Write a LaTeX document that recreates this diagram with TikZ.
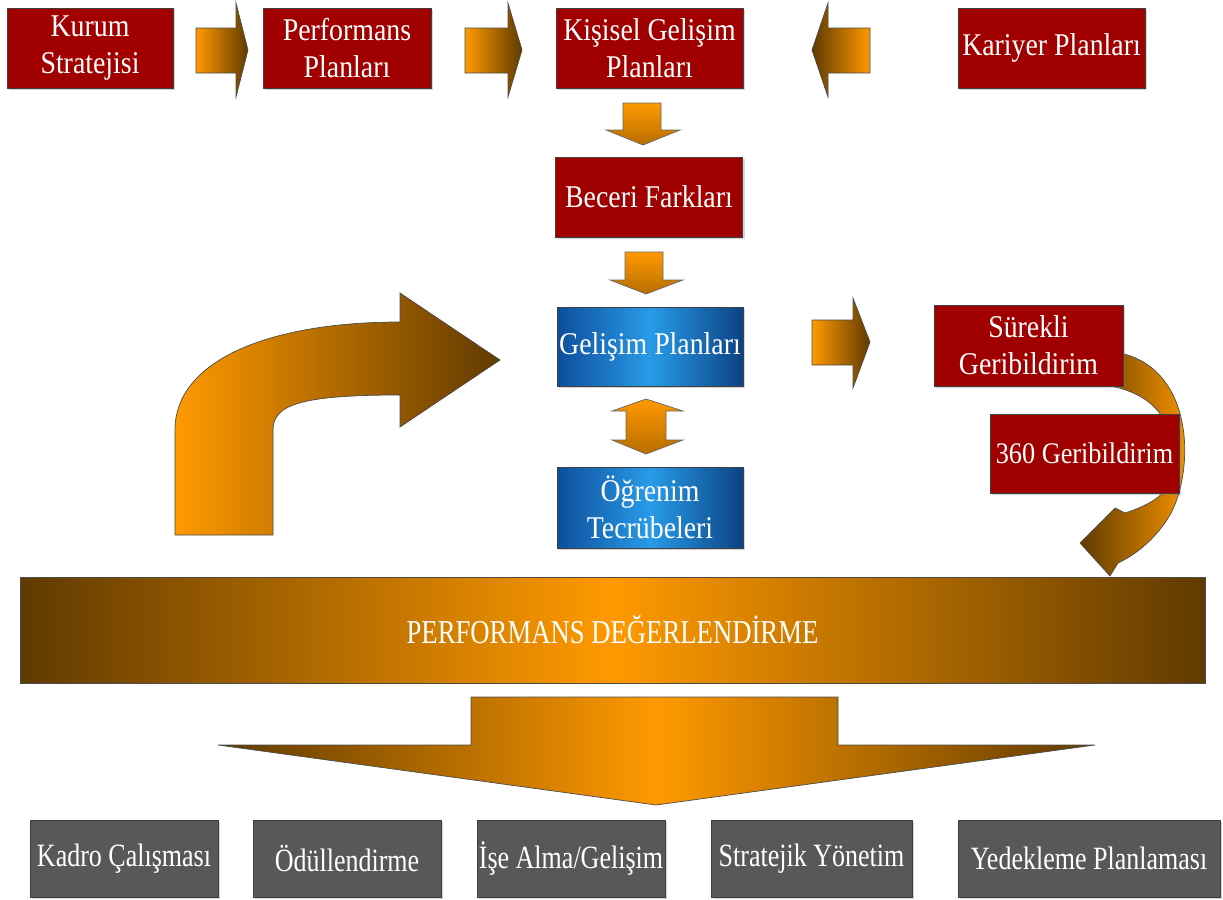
\documentclass[tikz,border=0pt]{standalone}
\usepackage{fontspec}
\setmainfont{Liberation Serif}
\newfontfamily\kutufont{Liberation Serif}[FakeStretch=0.88]
\newfontfamily\darfont{Liberation Serif}[FakeStretch=0.8]
\usetikzlibrary{shadows}

\definecolor{koyukirmizi}{RGB}{160,0,0}
\definecolor{turuncu}{RGB}{255,153,0}
\definecolor{kahve}{RGB}{96,58,0}
\definecolor{koyumavi}{RGB}{14,78,155}
\definecolor{acikmavi}{RGB}{40,155,232}
\definecolor{gri}{RGB}{88,88,88}

\tikzset{
  kutu/.style={draw=black!75, thin, text=white, align=center, inner sep=0pt,
    font=\kutufont\fontsize{18}{21}\selectfont,
    drop shadow={shadow xshift=1.2pt, shadow yshift=-1.2pt, opacity=0.35}},
  kirmizi/.style={kutu, fill=koyukirmizi, minimum width=3.74cm, minimum height=1.6cm},
  mavi/.style={kutu, left color=koyumavi, right color=koyumavi!85!black, middle color=acikmavi,
    minimum width=3.72cm, minimum height=1.6cm},
  grikutu/.style={kutu, fill=gri, minimum height=1.54cm, font=\darfont\fontsize{18.5}{21}\selectfont},
  serit/.style={draw=black!70, thin, text=white, inner sep=0pt,
    left color=kahve, right color=kahve, middle color=turuncu,
    font=\darfont\fontsize{19}{22}\selectfont},
  blokok/.style={draw=black!70, thin, left color=turuncu, right color=kahve},
  geriok/.style={draw=black!70, thin, left color=kahve, right color=turuncu},
  asagiok/.style={draw=black!60, thin, top color=turuncu, bottom color=turuncu!55!kahve},
}

\begin{document}
\begin{tikzpicture}[x=0.02cm, y=-0.02cm]
  \useasboundingbox (0,0) rectangle (1223,899);

  % Ust siradaki oklar
  \shade[blokok] (196,28) -- (236,28) -- (236,3) -- (248,50) -- (236,97) -- (236,73) -- (196,73) -- cycle;
  \shade[blokok] (465,28) -- (508,28) -- (508,3) -- (522,50) -- (508,97) -- (508,73) -- (465,73) -- cycle;
  \shade[geriok] (870,28) -- (828,28) -- (828,3) -- (812,50) -- (828,97) -- (828,73) -- (870,73) -- cycle;

  % Orta sutundaki oklar
  \shade[asagiok] (623,103) -- (661,103) -- (661,130) -- (680,130) -- (643,145) -- (606,130) -- (623,130) -- cycle;
  \shade[asagiok] (625,252) -- (663,252) -- (663,280) -- (683,280) -- (646,294) -- (610,280) -- (625,280) -- cycle;
  \shade[asagiok] (646,399) -- (683,411) -- (666,411) -- (666,440) -- (683,440) -- (646,454)
      -- (612,440) -- (626,440) -- (626,411) -- (612,411) -- cycle;
  \shade[blokok] (812,320) -- (853,320) -- (853,298) -- (870,342) -- (853,388) -- (853,365) -- (812,365) -- cycle;

  % Bukulmus buyuk ok (sol)
  \shade[blokok] (175,535) -- (175,430) .. controls (175,360) and (270,322) .. (400,322)
      -- (400,293) -- (500,360) -- (400,427) -- (400,395)
      .. controls (300,395) and (273,405) .. (273,430) -- (273,535) -- cycle;

  % Donen ok (sag)
  \shade[geriok] (1115,352) .. controls (1195,365) and (1195,470) .. (1170,515)
      .. controls (1155,540) and (1135,555) .. (1118,563) -- (1110,576) -- (1080,543) -- (1115,508)
      -- (1125,513) .. controls (1150,505) and (1165,495) .. (1172,480)
      .. controls (1180,430) and (1160,395) .. (1110,386) -- cycle;

  % Buyuk asagi ok
  \shade[draw=black!70, thin, left color=kahve, right color=kahve, middle color=turuncu]
      (471,697) -- (838,697) -- (838,745) -- (1095,745) -- (656,805) -- (218,745) -- (471,745) -- cycle;

  % Kutular
  \node[kirmizi, minimum width=3.32cm] (kurum) at (90,48) {Kurum\\Stratejisi};
  \node[kirmizi, minimum width=3.36cm] (performans) at (347,48) {Performans\\Planları};
  \node[kirmizi] (kisisel) at (649.5,48) {Kişisel Gelişim\\Planları};
  \node[kirmizi] (kariyer) at (1051.5,48) {Kariyer Planları};
  \node[kirmizi] (beceri) at (649,197) {Beceri Farkları};
  \node[mavi, minimum height=1.58cm] (gelisim) at (650,346.5) {Gelişim Planları};
  \node[mavi, minimum height=1.62cm] (ogrenim) at (650,507.5) {Öğrenim\\Tecrübeleri};
  \node[kirmizi, minimum width=3.78cm, minimum height=1.62cm] (surekli) at (1028.5,345.5) {Sürekli\\Geribildirim};
  \node[kirmizi, minimum width=3.78cm, minimum height=1.58cm,
        font=\kutufont\fontsize{17}{20}\selectfont] (geri360) at (1084.5,453.5) {360 Geribildirim};

  \node[serit, minimum width=23.7cm, minimum height=2.12cm] (degerlendirme) at (612.5,630) {PERFORMANS DEĞERLENDİRME};

  \node[grikutu, minimum width=3.76cm] (kadro) at (124,858.5) {Kadro Çalışması};
  \node[grikutu, minimum width=3.76cm] (odul) at (347,858.5) {Ödüllendirme};
  \node[grikutu, minimum width=3.76cm] (isealma) at (571,858.5) {İşe Alma/Gelişim};
  \node[grikutu, minimum width=4.02cm] (stratejik) at (811.5,858.5) {Stratejik Yönetim};
  \node[grikutu, minimum width=5.24cm] (yedekleme) at (1089,858.5) {Yedekleme Planlaması};
\end{tikzpicture}
\end{document}
